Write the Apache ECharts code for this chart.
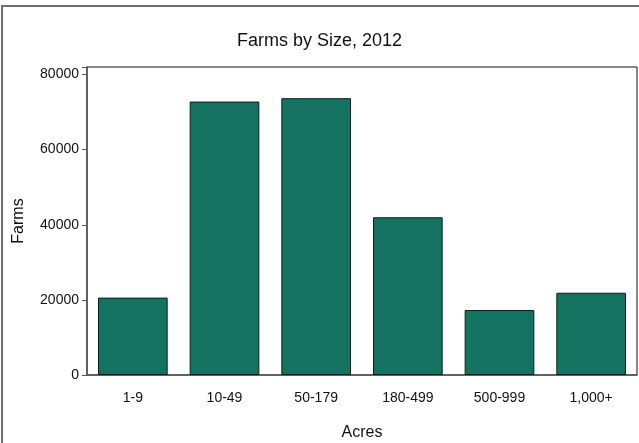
<!DOCTYPE html>
<html>
<head>
<meta charset="utf-8">
<script src="https://cdn.jsdelivr.net/npm/echarts@6/dist/echarts.min.js"></script>
<style>
html,body{margin:0;padding:0;background:#fff;}
#frame{position:absolute;left:1px;top:5px;width:640px;height:440px;border-left:2px solid #6e6e6e;border-top:2px solid #6e6e6e;box-sizing:border-box;}
#chart{position:absolute;left:0;top:0;width:639px;height:443px;}
</style>
</head>
<body>
<div id="frame"></div>
<div id="chart"></div>
<script>
const categories = ['1-9', '10-49', '50-179', '180-499', '500-999', '1,000+'];
const farms = [20600, 72800, 73700, 42000, 17300, 21900];
const yTicks = [0, 20000, 40000, 60000, 80000];

const FONT = '"Liberation Sans", Arial, sans-serif';
const chart = echarts.init(document.getElementById('chart'), null, {renderer: 'canvas'});
chart.setOption({
  animation: false,
  backgroundColor: 'transparent',
  title: {
    text: 'Farms by Size, 2012',
    left: 'center',
    top: 27,
    textStyle: {fontFamily: FONT, fontSize: 18, fontWeight: 'normal', color: '#111'}
  },
  grid: {
    left: 87, right: 2, top: 67, bottom: 68,
    outerBoundsMode: 'none',
    containLabel: false,
    show: true, borderColor: '#111', borderWidth: 1, backgroundColor: '#fff'
  },
  xAxis: {
    type: 'category',
    data: categories,
    name: 'Acres',
    nameLocation: 'middle',
    nameGap: 50,
    nameTextStyle: {fontFamily: FONT, fontSize: 16, color: '#111'},
    axisLine: {lineStyle: {color: '#555', width: 1.5}},
    axisTick: {show: false},
    axisLabel: {fontFamily: FONT, fontSize: 14, color: '#111', margin: 16}
  },
  yAxis: {
    type: 'value',
    min: yTicks[0],
    max: 82000,
    interval: yTicks[1] - yTicks[0],
    name: 'Farms',
    nameLocation: 'middle',
    nameGap: 60,
    nameTextStyle: {fontFamily: FONT, fontSize: 16, color: '#111'},
    splitLine: {show: false},
    axisLine: {show: true, lineStyle: {color: '#555', width: 1.5}},
    axisTick: {show: true, length: 5, lineStyle: {color: '#555'}},
    axisLabel: {fontFamily: FONT, fontSize: 14, color: '#111', margin: 8,
      formatter: v => (yTicks.indexOf(v) >= 0 ? String(v) : '')}
  },
  series: [{
    type: 'bar',
    data: farms,
    barCategoryGap: '24%',
    itemStyle: {color: '#147360', borderColor: '#0b1f1a', borderWidth: 1}
  }]
});
</script>
</body>
</html>
